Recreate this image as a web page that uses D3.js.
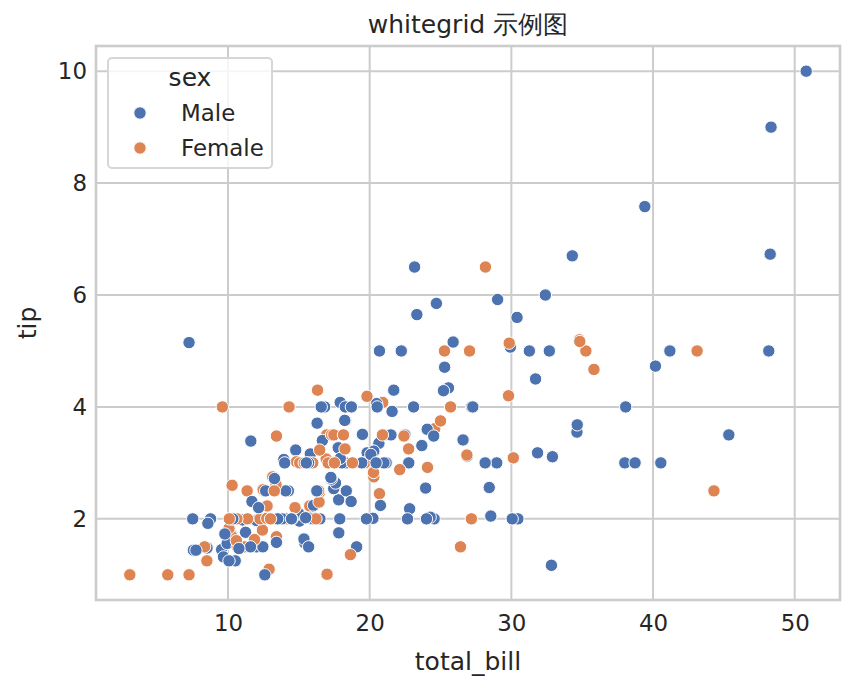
<!DOCTYPE html>
<html><head><meta charset="utf-8">
<script src="https://cdn.jsdelivr.net/npm/d3@7"></script>
<style>body{margin:0;background:#fff}svg{display:block}text{font-family:"DejaVu Sans",sans-serif;fill:#262626}</style>
</head><body><svg id="c" width="855" height="692"></svg>
<script>
const totalBill=[16.99,10.34,21.01,23.68,24.59,25.29,8.77,26.88,15.04,14.78,10.27,35.26,15.42,18.43,14.83,21.58,10.33,16.29,16.97,20.65,17.92,20.29,15.77,39.42,19.82,17.81,13.37,12.69,21.7,19.65,9.55,18.35,15.06,20.69,17.78,24.06,16.31,16.93,18.69,31.27,16.04,17.46,13.94,9.68,30.4,18.29,22.23,32.4,28.55,18.04,12.54,10.29,34.81,9.94,25.56,19.49,38.01,26.41,11.24,48.27,20.29,13.81,11.02,18.29,17.59,20.08,16.45,3.07,20.23,15.01,12.02,17.07,26.86,25.28,14.73,10.51,17.92,27.2,22.76,17.29,19.44,16.66,10.07,32.68,15.98,34.83,13.03,18.28,24.71,21.16,28.97,22.49,5.75,16.32,22.75,40.17,27.28,12.03,21.01,12.46,11.35,15.38,44.3,22.42,20.92,15.36,20.49,25.21,18.24,14.31,14.0,7.25,38.07,23.95,25.71,17.31,29.93,10.65,12.43,24.08,11.69,13.42,14.26,15.95,12.48,29.8,8.52,14.52,11.38,22.82,19.08,20.27,11.17,12.26,18.26,8.51,10.33,14.15,16.0,13.16,17.47,34.3,41.19,27.05,16.43,8.35,18.64,11.87,9.78,7.51,14.07,13.13,17.26,24.55,19.77,29.85,48.17,25.0,13.39,16.49,21.5,12.66,16.21,13.81,17.51,24.52,20.76,31.71,10.59,10.63,50.81,15.81,7.25,31.85,16.82,32.9,17.89,14.48,9.6,34.63,34.65,23.33,45.35,23.17,40.55,20.69,20.9,30.46,18.15,23.1,15.69,19.81,28.44,15.48,16.58,7.56,10.34,43.11,13.0,13.51,18.71,12.74,13.0,16.4,20.53,16.47,26.59,38.73,24.27,12.76,30.06,25.89,48.33,13.27,28.17,12.9,28.15,11.59,7.74,30.14,12.16,13.42,8.58,15.98,13.42,16.27,10.09,20.45,13.28,22.12,24.01,15.69,11.61,10.77,15.53,10.07,12.6,32.83,35.83,29.03,27.18,22.67,17.82,18.78];
const tip=[1.01,1.66,3.5,3.31,3.61,4.71,2.0,3.12,1.96,3.23,1.71,5.0,1.57,3.0,3.02,3.92,1.67,3.71,3.5,3.35,4.08,2.75,2.23,7.58,3.18,2.34,2.0,2.0,4.3,3.0,1.45,2.5,3.0,2.45,3.27,3.6,2.0,3.07,2.31,5.0,2.24,2.54,3.06,1.32,5.6,3.0,5.0,6.0,2.05,3.0,2.5,2.6,5.2,1.56,4.34,3.51,3.0,1.5,1.76,6.73,3.21,2.0,1.98,3.76,2.64,3.15,2.47,1.0,2.01,2.09,1.97,3.0,3.14,5.0,2.2,1.25,3.08,4.0,3.0,2.71,3.0,3.4,1.83,5.0,2.03,5.17,2.0,4.0,5.85,3.0,3.0,3.5,1.0,4.3,3.25,4.73,4.0,1.5,3.0,1.5,2.5,3.0,2.5,3.48,4.08,1.64,4.06,4.29,3.76,4.0,3.0,1.0,4.0,2.55,4.0,3.5,5.07,1.5,1.8,2.92,2.31,1.68,2.5,2.0,2.52,4.2,1.48,2.0,2.0,2.18,1.5,2.83,1.5,2.0,3.25,1.25,2.0,2.0,2.0,2.75,3.5,6.7,5.0,5.0,2.3,1.5,1.36,1.63,1.73,2.0,2.5,2.0,2.74,2.0,2.0,5.14,5.0,3.75,2.61,2.0,3.5,2.5,2.0,2.0,3.0,3.48,2.24,4.5,1.61,2.0,10.0,3.16,5.15,3.18,4.0,3.11,2.0,2.0,4.0,3.55,3.68,5.65,3.5,6.5,3.0,5.0,3.5,2.0,3.5,4.0,1.5,4.19,2.56,2.02,4.0,1.44,2.0,5.0,2.0,2.0,4.0,2.01,2.0,2.5,4.0,3.23,3.41,3.0,2.03,2.23,2.0,5.16,9.0,2.5,6.5,1.1,3.0,1.5,1.44,3.09,2.2,3.48,1.92,3.0,1.58,2.5,2.0,3.0,2.72,2.88,2.0,3.0,3.39,1.47,3.0,1.25,1.0,1.17,4.67,5.92,2.0,2.0,1.75,3.0];
const sexCode=["FMMMFMMMMM","MFMMFMFMFM","MFFMMMMMMF","MMFFMMMFMM","MMMMMMMMMM",
"MFFMMMMFMM","MMMMMMFFMM","MFFFFMMMMM","MMFMMFMMMM","MMFFFMMMMM",
"FFFFFMMMMF","MFMMFFMFFF","MFMMFFMFFM","MFFFFFFFMF","FMMFFFFFMM",
"MMMMMFMFFM","MMFMFMMMFF","MMMMMMMMFM","MMMMMMFMFM","MFMMMMMFFM",
"MFFFMFMMMF","MMMFFFMMMF","MFMFMMFMMF","MMMMMMMMFM","FMMF"].join("");
const sexLevels=["Male","Female"];
const xTicks=[10,20,30,40,50];
const yTicks=[2,4,6,8,10];
const titleText="whitegrid 示例图";

const data=totalBill.map((b,i)=>({b,t:tip[i],s:sexCode[i]==="M"?"Male":"Female"}));
const svg=d3.select("#c");
const L=96,R=840,T=46,B=600;
const xmin=d3.min(totalBill),xmax=d3.max(totalBill),ymin=d3.min(tip),ymax=d3.max(tip);
const xp=(xmax-xmin)*0.05,yp=(ymax-ymin)*0.05;
const x=d3.scaleLinear().domain([xmin-xp,xmax+xp]).range([L,R]);
const y=d3.scaleLinear().domain([ymin-yp,ymax+yp]).range([B,T]);
const color=d3.scaleOrdinal().domain(sexLevels).range(["#4c72b0","#dd8452"]);

// grid
const g=svg.append("g");
g.selectAll(".gx").data(xTicks).join("line").attr("x1",d=>x(d)).attr("x2",d=>x(d)).attr("y1",T).attr("y2",B).attr("stroke","#cccccc").attr("stroke-width",2);
g.selectAll(".gy").data(yTicks).join("line").attr("y1",d=>y(d)).attr("y2",d=>y(d)).attr("x1",L).attr("x2",R).attr("stroke","#cccccc").attr("stroke-width",2);

// axes with d3 axis (no tick lines)
const xa=svg.append("g").attr("transform",`translate(0,${B})`).call(d3.axisBottom(x).tickValues(xTicks).tickSize(0).tickPadding(9).tickFormat(d3.format("d")));
const ya=svg.append("g").attr("transform",`translate(${L},0)`).call(d3.axisLeft(y).tickValues(yTicks).tickSize(0).tickPadding(9).tickFormat(d3.format("d")));
[xa,ya].forEach(a=>{a.select(".domain").remove();a.selectAll("text").attr("font-size",22.9).attr("fill","#262626").style("font-family","DejaVu Sans");});
xa.selectAll("text").attr("dy","0.95em");

// spines
svg.append("rect").attr("x",L).attr("y",T).attr("width",R-L).attr("height",B-T).attr("fill","none").attr("stroke","#cccccc").attr("stroke-width",2.6);

// points
svg.append("g").selectAll("circle").data(data).join("circle")
 .attr("cx",d=>x(d.b)).attr("cy",d=>y(d.t)).attr("r",6.2)
 .attr("fill",d=>color(d.s)).attr("stroke","#fff").attr("stroke-width",1);

// labels
svg.append("text").attr("x",(L+R)/2).attr("y",33).attr("text-anchor","middle").attr("font-size",25).text(titleText);
svg.append("text").attr("x",(L+R)/2).attr("y",670).attr("text-anchor","middle").attr("font-size",25).text("total_bill");
svg.append("text").attr("transform",`translate(36,${(T+B)/2}) rotate(-90)`).attr("text-anchor","middle").attr("font-size",25).text("tip");

// legend
const lg=svg.append("g");
lg.append("rect").attr("x",108).attr("y",58).attr("width",164).attr("height",110).attr("rx",4).attr("fill","#fff").attr("fill-opacity",0.8).attr("stroke","#d6d6d6").attr("stroke-width",2);
lg.append("text").attr("x",190).attr("y",86).attr("text-anchor","middle").attr("font-size",25).text("sex");
sexLevels.forEach((s,i)=>{
  const cy=113+i*35;
  lg.append("circle").attr("cx",140).attr("cy",cy).attr("r",6.2).attr("fill",color(s)).attr("stroke","#fff").attr("stroke-width",1);
  lg.append("text").attr("x",181).attr("y",cy+8).attr("font-size",22.9).text(s);
});
</script></body></html>
